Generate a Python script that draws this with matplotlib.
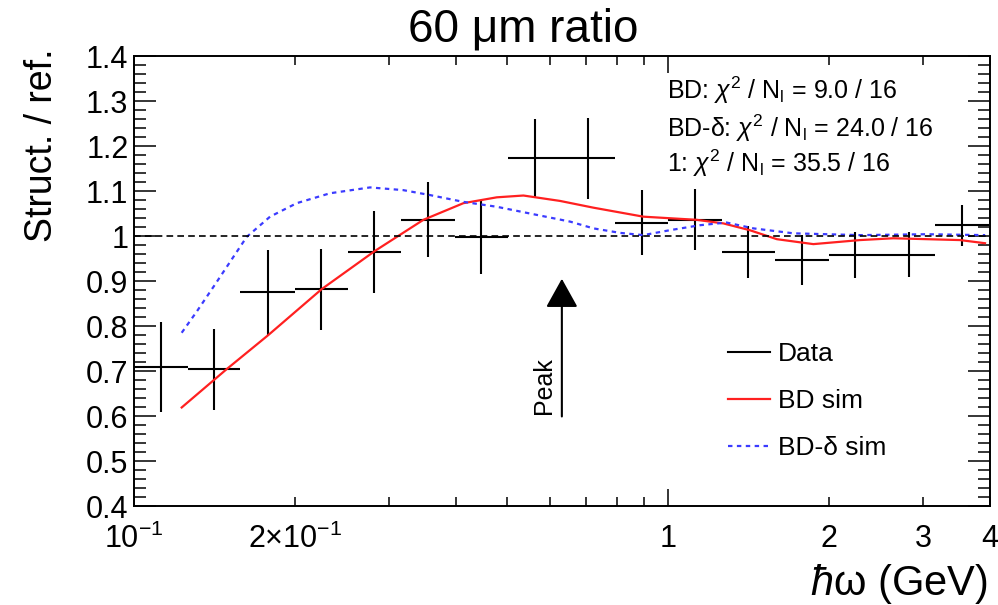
import numpy as np
import matplotlib
matplotlib.use('Agg')
import matplotlib.pyplot as plt
from matplotlib.lines import Line2D
from matplotlib.ticker import MultipleLocator

plt.rcParams['font.family'] = ['Liberation Sans', 'DejaVu Sans']
plt.rcParams['mathtext.fontset'] = 'custom'
plt.rcParams['mathtext.rm'] = 'Liberation Sans'
plt.rcParams['mathtext.it'] = 'Liberation Sans:italic'
plt.rcParams['mathtext.bf'] = 'Liberation Sans:bold'

# photon energy bins (GeV)
bin_edges = [0.100, 0.126, 0.158, 0.200, 0.251, 0.316, 0.398, 0.501, 0.631,
             0.794, 1.000, 1.259, 1.585, 1.995, 2.512, 3.162, 3.981]
ratio = [0.708, 0.704, 0.875, 0.882, 0.964, 1.036, 0.998, 1.173,
         1.173, 1.030, 1.036, 0.964, 0.947, 0.958, 0.958, 1.024]
ratio_err = [0.100, 0.090, 0.094, 0.090, 0.091, 0.083, 0.082, 0.088,
             0.090, 0.073, 0.068, 0.058, 0.056, 0.052, 0.050, 0.046]

# BD simulation
bd_x = [0.1228, 0.149, 0.1784, 0.2245, 0.2825, 0.348, 0.4135, 0.4775, 0.5355,
        0.627, 0.724, 0.898, 1.13, 1.268, 1.42, 1.596, 1.868, 2.285, 2.637,
        3.515, 3.915]
bd_y = [0.619, 0.704, 0.780, 0.882, 0.967, 1.036, 1.073, 1.086, 1.090,
        1.078, 1.063, 1.043, 1.036, 1.028, 1.013, 0.993, 0.982, 0.991, 0.995,
        0.991, 0.984]

# BD-delta simulation
bdd_x = [0.1228, 0.131, 0.1408, 0.1625, 0.1797, 0.2016, 0.2327, 0.2765, 0.319,
         0.358, 0.413, 0.4775, 0.551, 0.655, 0.724, 0.812, 0.898, 1.007, 1.146,
         1.285, 1.443, 1.714, 2.285, 3.045, 3.917]
bdd_y = [0.785, 0.832, 0.887, 0.998, 1.043, 1.073, 1.095, 1.108, 1.102,
         1.091, 1.076, 1.065, 1.050, 1.032, 1.017, 1.007, 1.002, 1.013, 1.024,
         1.030, 1.017, 1.006, 1.002, 1.004, 1.002]

peak_x = 0.632

chi2_lines = [r'BD: $\chi^2$ / N$_\mathrm{l}$ = 9.0 / 16',
              r'BD-δ: $\chi^2$ / N$_\mathrm{l}$ = 24.0 / 16',
              r'1: $\chi^2$ / N$_\mathrm{l}$ = 35.5 / 16']

fig = plt.figure(figsize=(9.98, 6.05), dpi=100)
ax = fig.add_axes([0.1343, 0.1636, 0.8577, 0.7438])

edges = np.array(bin_edges)
xc = np.sqrt(edges[:-1] * edges[1:])
ax.errorbar(xc, ratio, yerr=ratio_err, xerr=[xc - edges[:-1], edges[1:] - xc],
            fmt='none', ecolor='k', elinewidth=1.5, capsize=0)
ax.plot(bd_x, bd_y, color='#ff2020', lw=1.6)
ax.plot(bdd_x, bdd_y, color='#3b3bff', lw=1.6, ls=(0, (2, 2)))
ax.axhline(1, color='k', lw=1.2, ls=(0, (4, 2.5)))

ax.set_xscale('log')
ax.set_xlim(0.1, 4)
ax.set_ylim(0.4, 1.4)

ax.set_xticks([0.1, 1], [r'$10^{-1}$', '1'])
ax.set_xticks([0.2, 0.3, 0.4, 0.5, 0.6, 0.7, 0.8, 0.9, 2, 3, 4],
              [r'$2{\times}10^{-1}$', '', '', '', '', '', '', '', '2', '3', '4'],
              minor=True)
ax.set_yticks([0.4, 0.5, 0.6, 0.7, 0.8, 0.9, 1.0, 1.1, 1.2, 1.3, 1.4],
              ['0.4', '0.5', '0.6', '0.7', '0.8', '0.9', '1', '1.1', '1.2', '1.3', '1.4'])
ax.yaxis.set_minor_locator(MultipleLocator(0.02))

ax.tick_params(axis='both', which='both', direction='in', top=True, right=True,
               labelsize=22, width=1.1)
ax.tick_params(axis='y', which='major', length=16, pad=4)
ax.tick_params(axis='y', which='minor', length=8.6)
ax.tick_params(axis='x', which='major', length=12, pad=13)
ax.tick_params(axis='x', which='minor', length=6.5, pad=13)
for s in ax.spines.values():
    s.set_linewidth(1.4)

# peak marker
ax.annotate('', xy=(peak_x, 0.905), xytext=(peak_x, 0.599),
            arrowprops=dict(arrowstyle='-|>,head_length=1.8,head_width=1.0',
                            mutation_scale=10, color='k', lw=1.5,
                            shrinkA=0, shrinkB=0))
ax.annotate('Peak', xy=(peak_x, 0.605), xytext=(-4, 0), textcoords='offset points',
            rotation=90, ha='right', va='bottom', fontsize=18)

handles = [Line2D([], [], color='k', lw=1.5),
           Line2D([], [], color='#ff2020', lw=1.6),
           Line2D([], [], color='#3b3bff', lw=1.6, ls=(0, (2, 2)))]
ax.legend(handles, ['Data', 'BD sim', 'BD-δ sim'], loc='upper left',
          bbox_to_anchor=(0.694, 0.365), frameon=False, fontsize=19,
          handlelength=1.6, handletextpad=0.3, labelspacing=0.88,
          borderpad=0, borderaxespad=0)

for txt, yb in zip(chi2_lines, [99.3, 136.7, 171.7]):
    fig.text(667 / 998, 1 - yb / 605, txt, ha='left', va='baseline', fontsize=18)

fig.text(523 / 998, 1 - 42 / 605, '60 μm ratio', ha='center', va='baseline', fontsize=33)
fig.text(42 / 998, 1 - 48 / 605, 'Struct. / ref.', rotation=90, ha='center', va='top',
         fontsize=27)
fig.text(988 / 998, 1 - 595 / 605, r'$\mathit{ħ}$ω (GeV)', ha='right', va='baseline',
         fontsize=30)

fig.savefig('out.png', dpi=100)
